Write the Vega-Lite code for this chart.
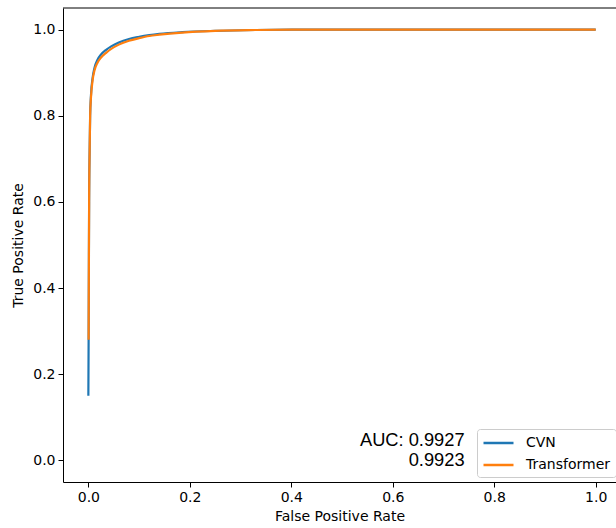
{
  "$schema": "https://vega.github.io/schema/vega-lite/v6.json",
  "width": 553,
  "height": 474,
  "autosize": {"type": "none"},
  "padding": {"left": 63, "top": 8, "right": 0, "bottom": 46},
  "background": "white",
  "config": {
    "view": {"stroke": null},
    "font": "DejaVu Sans",
    "axis": {
      "domainColor": "black",
      "domainWidth": 1,
      "tickColor": "black",
      "tickSize": 5,
      "tickWidth": 1,
      "labelColor": "black",
      "labelFont": "DejaVu Sans",
      "labelFontSize": 14,
      "titleFont": "DejaVu Sans",
      "titleFontSize": 14,
      "titleFontWeight": "normal",
      "titleColor": "black",
      "grid": false,
      "labelPadding": 3
    },
    "legend": {
      "labelFont": "DejaVu Sans",
      "labelFontSize": 14,
      "labelColor": "black"
    }
  },
  "layer": [
    {
      "data": {"values": [{"fpr": 0, "tpr": 1.05}]},
      "mark": {"type": "rule", "color": "black", "strokeWidth": 1},
      "encoding": {
        "y": {"field": "tpr", "type": "quantitative"}
      }
    },
    {
      "data": {
        "values": [
          {"series": "CVN", "fpr": 0.0, "tpr": 0.15},
          {"series": "CVN", "fpr": 0.0005, "tpr": 0.28},
          {"series": "CVN", "fpr": 0.001, "tpr": 0.45},
          {"series": "CVN", "fpr": 0.0015, "tpr": 0.6},
          {"series": "CVN", "fpr": 0.0025, "tpr": 0.72},
          {"series": "CVN", "fpr": 0.0035, "tpr": 0.8},
          {"series": "CVN", "fpr": 0.005, "tpr": 0.845},
          {"series": "CVN", "fpr": 0.0085, "tpr": 0.889},
          {"series": "CVN", "fpr": 0.012, "tpr": 0.911},
          {"series": "CVN", "fpr": 0.018, "tpr": 0.93},
          {"series": "CVN", "fpr": 0.025, "tpr": 0.942},
          {"series": "CVN", "fpr": 0.035, "tpr": 0.953},
          {"series": "CVN", "fpr": 0.045, "tpr": 0.961},
          {"series": "CVN", "fpr": 0.06, "tpr": 0.97},
          {"series": "CVN", "fpr": 0.08, "tpr": 0.978},
          {"series": "CVN", "fpr": 0.1, "tpr": 0.983},
          {"series": "CVN", "fpr": 0.12, "tpr": 0.987},
          {"series": "CVN", "fpr": 0.14, "tpr": 0.99},
          {"series": "CVN", "fpr": 0.185, "tpr": 0.994},
          {"series": "CVN", "fpr": 0.25, "tpr": 0.997},
          {"series": "CVN", "fpr": 0.33, "tpr": 0.999},
          {"series": "CVN", "fpr": 0.42, "tpr": 1.0},
          {"series": "CVN", "fpr": 0.6, "tpr": 1.0},
          {"series": "CVN", "fpr": 1.0, "tpr": 1.0},
          {"series": "Transformer", "fpr": 0.0005, "tpr": 0.28},
          {"series": "Transformer", "fpr": 0.001, "tpr": 0.45},
          {"series": "Transformer", "fpr": 0.0015, "tpr": 0.6},
          {"series": "Transformer", "fpr": 0.0025, "tpr": 0.72},
          {"series": "Transformer", "fpr": 0.0035, "tpr": 0.8},
          {"series": "Transformer", "fpr": 0.005, "tpr": 0.84},
          {"series": "Transformer", "fpr": 0.0085, "tpr": 0.884},
          {"series": "Transformer", "fpr": 0.012, "tpr": 0.905},
          {"series": "Transformer", "fpr": 0.018, "tpr": 0.923},
          {"series": "Transformer", "fpr": 0.025, "tpr": 0.935},
          {"series": "Transformer", "fpr": 0.035, "tpr": 0.946},
          {"series": "Transformer", "fpr": 0.045, "tpr": 0.955},
          {"series": "Transformer", "fpr": 0.06, "tpr": 0.965},
          {"series": "Transformer", "fpr": 0.08, "tpr": 0.974},
          {"series": "Transformer", "fpr": 0.1, "tpr": 0.98},
          {"series": "Transformer", "fpr": 0.12, "tpr": 0.985},
          {"series": "Transformer", "fpr": 0.14, "tpr": 0.988},
          {"series": "Transformer", "fpr": 0.185, "tpr": 0.993},
          {"series": "Transformer", "fpr": 0.25, "tpr": 0.997},
          {"series": "Transformer", "fpr": 0.33, "tpr": 0.999},
          {"series": "Transformer", "fpr": 0.42, "tpr": 1.0},
          {"series": "Transformer", "fpr": 0.6, "tpr": 1.0},
          {"series": "Transformer", "fpr": 1.0, "tpr": 1.0}
        ]
      },
      "mark": {"type": "line", "strokeWidth": 2.2, "interpolate": "monotone"},
      "encoding": {
        "x": {
          "field": "fpr",
          "type": "quantitative",
          "title": "False Positive Rate",
          "scale": {"domain": [-0.05, 1.04], "nice": false, "zero": false},
          "axis": {"values": [0, 0.2, 0.4, 0.6, 0.8, 1.0], "format": ".1f", "titlePadding": 5}
        },
        "y": {
          "field": "tpr",
          "type": "quantitative",
          "title": "True Positive Rate",
          "scale": {"domain": [-0.05, 1.05], "nice": false, "zero": false},
          "axis": {"values": [0, 0.2, 0.4, 0.6, 0.8, 1.0], "format": ".1f", "titlePadding": 7}
        },
        "color": {
          "field": "series",
          "type": "nominal",
          "scale": {"domain": ["CVN", "Transformer"], "range": ["#1f77b4", "#ff7f0e"]},
          "legend": {
            "title": null,
            "orient": "none",
            "legendX": 414,
            "legendY": 421,
            "symbolType": "M-1,0H3",
            "symbolSize": 225,
            "symbolStrokeWidth": 2.5,
            "symbolFillColor": "transparent",
            "labelOffset": 26,
            "rowPadding": 6,
            "padding": 5,
            "fillColor": "white",
            "strokeColor": "#cccccc",
            "cornerRadius": 3
          }
        },
        "order": {"field": "fpr", "type": "quantitative"}
      }
    },
    {
      "data": {
        "values": [
          {"fpr": 0.7416, "tpr": 0.046, "label": "AUC: 0.9927"},
          {"fpr": 0.7416, "tpr": -0.002, "label": "0.9923"}
        ]
      },
      "mark": {"type": "text", "align": "right", "baseline": "middle", "font": "Liberation Sans", "fontSize": 18.3, "color": "black"},
      "encoding": {
        "x": {"field": "fpr", "type": "quantitative"},
        "y": {"field": "tpr", "type": "quantitative"},
        "text": {"field": "label", "type": "nominal"}
      }
    }
  ]
}
